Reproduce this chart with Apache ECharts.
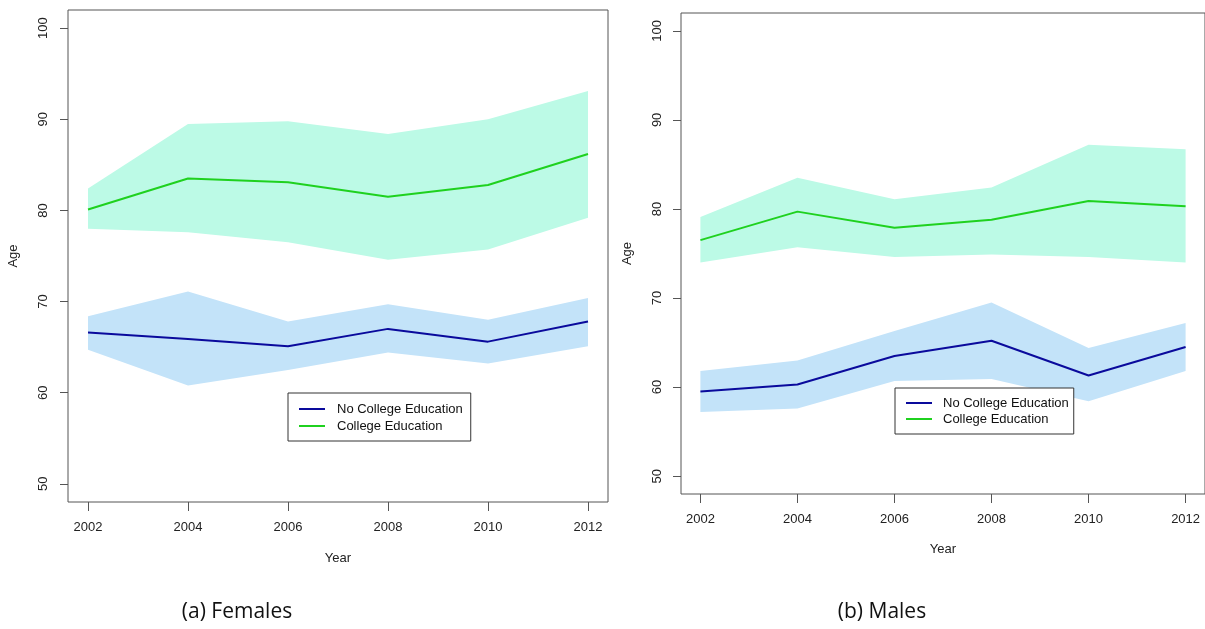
<!DOCTYPE html>
<html>
<head>
<meta charset="utf-8">
<script src="https://cdn.jsdelivr.net/npm/echarts@6/dist/echarts.min.js"></script>
<style>
html,body{margin:0;padding:0;background:#fff;}
#c{width:1205px;height:629px;}
</style>
</head>
<body>
<div id="c"></div>
<script>
// ---- data ----
var years = [2002, 2004, 2006, 2008, 2010, 2012];
var yTicks = [50, 60, 70, 80, 90, 100];

var femNoColMean = [66.6, 65.9, 65.1, 67.0, 65.6, 67.8];
var femNoColLow  = [64.7, 60.8, 62.5, 64.4, 63.2, 65.1];
var femNoColHigh = [68.4, 71.1, 67.8, 69.7, 68.0, 70.4];
var femColMean   = [80.1, 83.5, 83.1, 81.5, 82.8, 86.2];
var femColLow    = [78.0, 77.6, 76.5, 74.6, 75.7, 79.2];
var femColHigh   = [82.4, 89.5, 89.8, 88.4, 90.0, 93.1];

var maleNoColMean = [59.5, 60.3, 63.5, 65.2, 61.3, 64.5];
var maleNoColLow  = [57.2, 57.6, 60.7, 60.9, 58.4, 61.8];
var maleNoColHigh = [61.8, 63.0, 66.3, 69.5, 64.4, 67.2];
var maleColMean   = [76.5, 79.7, 77.9, 78.8, 80.9, 80.3];
var maleColLow    = [74.0, 75.7, 74.6, 74.9, 74.6, 74.0];
var maleColHigh   = [79.1, 83.5, 81.1, 82.4, 87.2, 86.7];

var nameNoCol = 'No College Education';
var nameCol = 'College Education';

// ---- styles ----
var blueLine = '#0a0a9c';
var greenLine = '#1fd11f';
var blueBand = '#c3e3f9';
var greenBand = '#bcfae6';
var font = 'Liberation Sans, Arial, Helvetica, sans-serif';

function pairs(vals) { return years.map(function (y, i) { return [y, vals[i]]; }); }

function band(idx, lo, hi, color) {
  var rows = years.map(function (y, i) { return [y, lo[i], hi[i]]; });
  return {
    type: 'custom', xAxisIndex: idx, yAxisIndex: idx, silent: true, z: 1,
    data: rows,
    encode: { x: 0, y: [1, 2] },
    renderItem: function (params, api) {
      if (params.dataIndex !== 0) return null;
      var pts = [];
      rows.forEach(function (r) { pts.push(api.coord([r[0], r[2]])); });
      for (var i = rows.length - 1; i >= 0; i--) pts.push(api.coord([rows[i][0], rows[i][1]]));
      return { type: 'polygon', shape: { points: pts }, style: { fill: color, stroke: null } };
    }
  };
}
function line(idx, name, vals, color) {
  return { type: 'line', name: name, xAxisIndex: idx, yAxisIndex: idx, data: pairs(vals),
    symbol: 'none', color: color, itemStyle: { color: color },
    lineStyle: { color: color, width: 2 }, z: 3 };
}
function xAxis(idx, gap, margin) {
  return { type: 'value', gridIndex: idx, min: 2001.6, max: 2012.4,
    name: 'Year', nameLocation: 'middle', nameGap: gap,
    nameTextStyle: { fontFamily: font, fontSize: 13, color: '#222' },
    axisLine: { show: false }, splitLine: { show: false },
    axisTick: { show: true, length: 9, customValues: years, lineStyle: { color: '#555' } },
    axisLabel: { customValues: years, formatter: function (v) { return String(v); },
      fontFamily: font, fontSize: 13, color: '#222', margin: margin } };
}
function yAxis(idx, gap, margin) {
  return { type: 'value', gridIndex: idx, min: 48, max: 102,
    name: 'Age', nameLocation: 'middle', nameGap: gap, nameRotate: 90,
    nameTextStyle: { fontFamily: font, fontSize: 13, color: '#222' },
    axisLine: { show: false }, splitLine: { show: false },
    axisTick: { show: true, length: 8, customValues: yTicks, lineStyle: { color: '#555' } },
    axisLabel: { customValues: yTicks, rotate: 90, align: 'center', verticalAlign: 'bottom',
      formatter: function (v) { return String(v); },
      fontFamily: font, fontSize: 13, color: '#222', margin: margin } };
}
function legend(left, top, pad, textPad, gap) {
  return { orient: 'vertical', left: left, top: top, padding: pad, itemGap: gap,
    data: [nameNoCol, nameCol], icon: 'rect', itemWidth: 26, itemHeight: 2,
    borderColor: '#333', borderWidth: 1, backgroundColor: '#fff', selectedMode: false,
    textStyle: { fontFamily: font, fontSize: 13, color: '#111', lineHeight: 14, padding: [0, 0, 0, textPad] } };
}

var series = [
  band(0, femNoColLow, femNoColHigh, blueBand),
  band(0, femColLow, femColHigh, greenBand),
  band(1, maleNoColLow, maleNoColHigh, blueBand),
  band(1, maleColLow, maleColHigh, greenBand),
  line(0, nameNoCol, femNoColMean, blueLine), line(0, nameCol, femColMean, greenLine),
  line(1, nameNoCol, maleNoColMean, blueLine), line(1, nameCol, maleColMean, greenLine)
];

var chart = echarts.init(document.getElementById('c'), null, { renderer: 'canvas' });
chart.setOption({
  animation: false,
  backgroundColor: '#fff',
  grid: [
    { left: 68, top: 10, width: 540, height: 492, show: true, borderColor: '#555', borderWidth: 1, backgroundColor: 'transparent' },
    { left: 681, top: 13, width: 526, height: 481, show: true, borderColor: '#555', borderWidth: 1, backgroundColor: 'transparent' }
  ],
  xAxis: [xAxis(0, 50, 19), xAxis(1, 49, 19)],
  yAxis: [yAxis(0, 48, 18), yAxis(1, 47, 17)],
  legend: [legend(288, 393, [9, 8, 8, 11], 7, 3), legend(895, 388, [8, 5, 8, 11], 6, 2)],
  series: series,
  graphic: [
    { type: 'text', x: 237, y: 612, style: { text: '(a) Females', fontFamily: 'Open Sans, Noto Sans, sans-serif', fontSize: 21, fill: '#111', textAlign: 'center', textVerticalAlign: 'middle' } },
    { type: 'text', x: 882, y: 612, style: { text: '(b) Males', fontFamily: 'Open Sans, Noto Sans, sans-serif', fontSize: 21, fill: '#111', textAlign: 'center', textVerticalAlign: 'middle' } }
  ]
});
</script>
</body>
</html>
